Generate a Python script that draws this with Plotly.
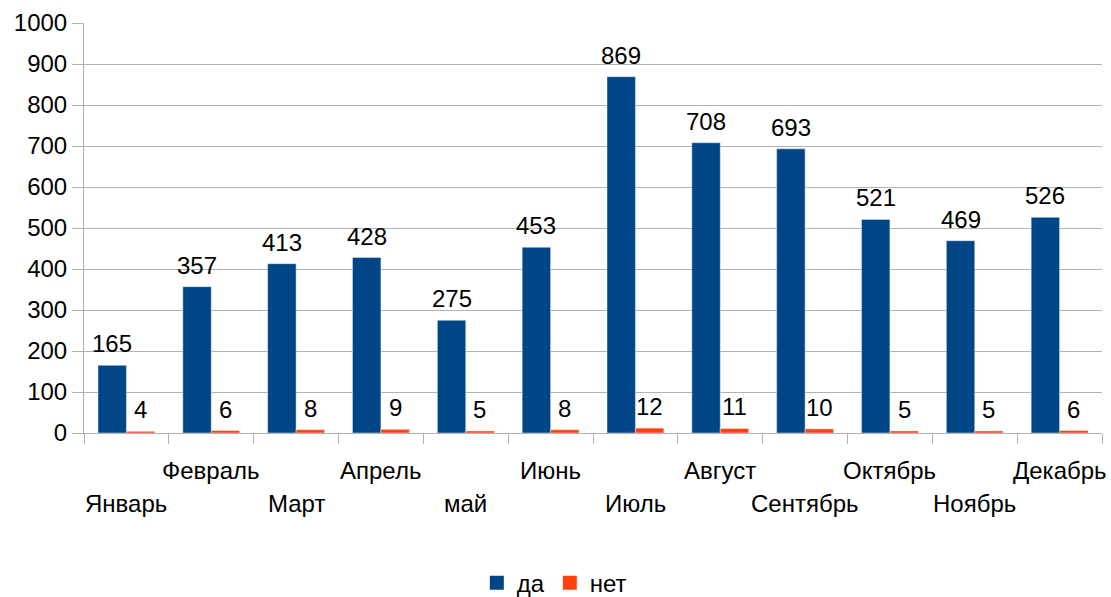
import plotly.graph_objects as go

months = ["Январь", "Февраль", "Март", "Апрель", "май", "Июнь", "Июль",
          "Август", "Сентябрь", "Октябрь", "Ноябрь", "Декабрь"]
da = [165, 357, 413, 428, 275, 453, 869, 708, 693, 521, 469, 526]
net = [4, 6, 8, 9, 5, 8, 12, 11, 10, 5, 5, 6]

FONT = "Liberation Sans, Arial, sans-serif"
FS = 24
BARGAP = 0.33
BLUE, ORANGE = "#004586", "#ff420e"
W, H = 1111, 597
L, R, T, B = 84, 9, 23, 164
cat_w = (W - L - R) / len(months)
half = cat_w * (1 - BARGAP) / 4

fig = go.Figure()
fig.add_trace(go.Bar(x=months, y=da, name="да", marker_color=BLUE, showlegend=False))
fig.add_trace(go.Bar(x=months, y=net, name="нет", marker_color=ORANGE, showlegend=False))
# legend entries with larger square swatches
for name, col in (("да", BLUE), ("нет", ORANGE)):
    fig.add_trace(go.Scatter(x=[months[0]], y=[None], mode="markers", name=name,
                             marker=dict(symbol="square", size=14, color=col),
                             hoverinfo="skip"))

annotations = []
for i, m in enumerate(months):
    annotations.append(dict(x=m, y=0, xref="x", yref="y", text=m,
                            showarrow=False, yanchor="middle",
                            yshift=-(37 if i % 2 else 70),
                            font=dict(size=FS, family=FONT, color="black")))
for series, sh in ((da, -half), (net, half)):
    for m, v in zip(months, series):
        annotations.append(dict(x=m, y=v, xref="x", yref="y", text=str(v),
                                showarrow=False, yanchor="bottom", xshift=sh,
                                yshift=6,
                                font=dict(size=FS, family=FONT, color="black")))

fig.update_layout(
    width=W, height=H,
    margin=dict(l=L, r=R, t=T, b=B, autoexpand=False),
    paper_bgcolor="white", plot_bgcolor="white",
    font=dict(family=FONT, size=FS, color="black"),
    barmode="group", bargap=BARGAP, bargroupgap=0,
    annotations=annotations,
    legend=dict(orientation="h", x=0.462, xanchor="center", y=-0.366, yanchor="middle",
                font=dict(size=FS, family=FONT), itemwidth=30),
    showlegend=True,
)
fig.update_xaxes(showticklabels=False, ticks="outside", tickson="boundaries",
                 range=[-0.5, len(months) - 0.5],
                 ticklen=10, tickcolor="#b3b3b3", showline=True, linecolor="#b3b3b3",
                 showgrid=False, automargin=False)
fig.update_yaxes(range=[0, 1000], dtick=100, ticks="outside", ticklen=11,
                 tickcolor="#b3b3b3", showline=True, linecolor="#b3b3b3",
                 gridcolor="#b3b3b3", zeroline=False, automargin=False,
                 tickfont=dict(size=FS, family=FONT))

fig.write_html("out.html", config={"displayModeBar": False},
               post_script="document.body.style.margin='0';document.body.style.overflow='hidden';")
